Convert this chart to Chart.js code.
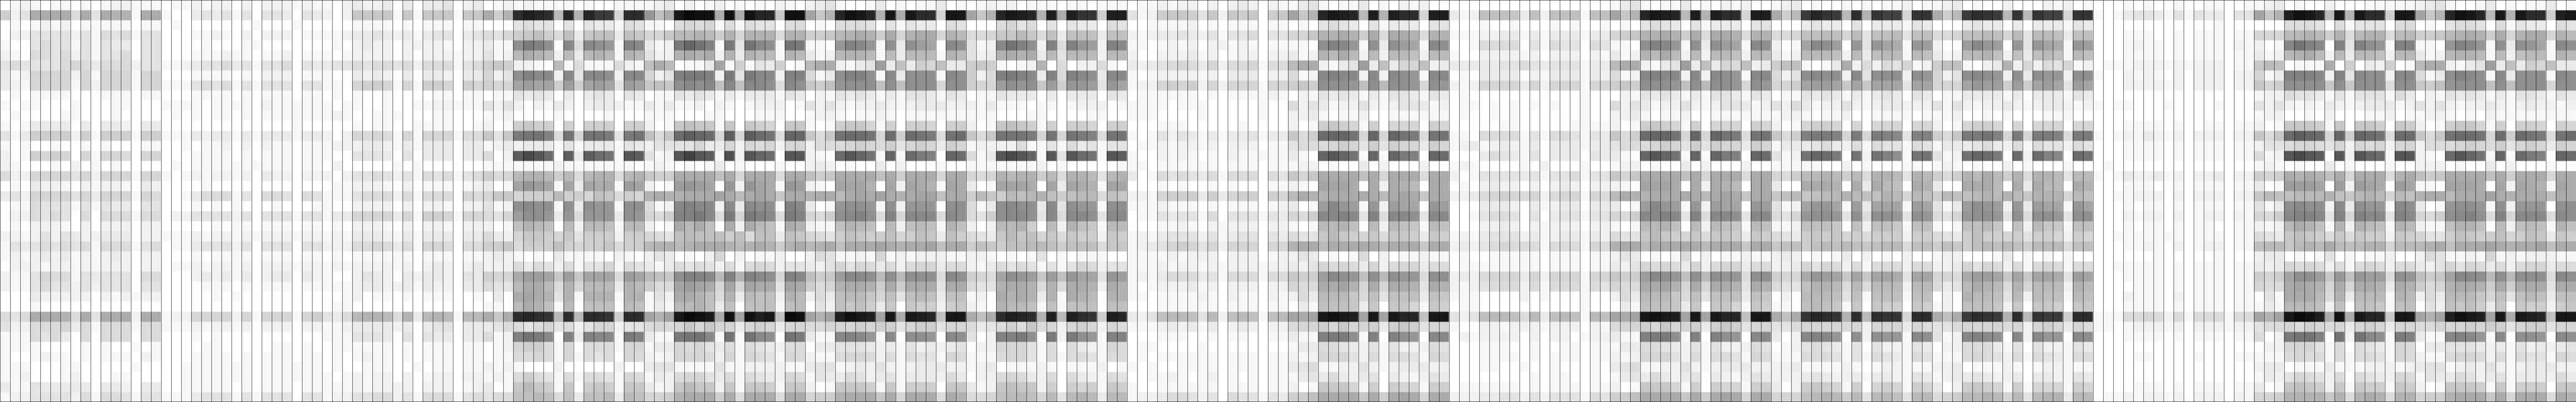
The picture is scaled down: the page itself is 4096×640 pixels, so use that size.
<!DOCTYPE html>
<html>
<head>
<meta charset="utf-8">
<title>Heatmap</title>
<script src="https://cdn.jsdelivr.net/npm/chart.js@4"></script>
<style>
html, body { margin: 0; padding: 0; background: #fff; }
canvas { display: block; }
</style>
</head>
<body>
<canvas id="heat" width="4096" height="640"></canvas>
<script>
// Valeurs : un caractere par cellule, base 36 (0 = blanc, z = presque noir)
// 8 blocs de 32 colonnes, 40 lignes chacun
const tile0 = [
'01210110101221110112122020222121','724cccc5c4cbb1cc1003434140443043','01012120111110110100000001000100','02244442415451440001121020222011',
'10045441414330440000100011000000','21055452414450440001112110112011','45444456535552441123445341445043','31266662616661660001111010222011',
'32166661626661661114545141444044','01011110001110110001111010111011','10110001000110001111011110211111','01000011000100000101011010111111',
'10133330303320330000000000000100','41377772717771771113233131333133','10100100101000110010112020211011','20176760616650660001111010111011',
'21000102010100000101111111111011','52266664626661661012122120322022','01032210212210320000100000000000','34266664636661650013555140554054',
'01154441414330440001010100010001','02254540505551550224444240444144','01022210202220220000010110111011','22124243223330221112122121222122',
'14345454515551450113444240444044','12123231212320220001011110111011','02221221212220220112122120222122','21146551434440550002323130233032',
'21145442424440440000111010111011','00032222202121220000010100000000','00010000000000000000000000000000','545cccb5c4ccc2cc1226666261666167',
'42255563515551551112122120222022','11154530505550550001010000000000','11110000101001010000110000011010','10012110101110210001111010111011',
'11100011000001000011111110111111','11200012000110000011111110111111','31143333303320330011111010111011','12244442515541441113444141444044'
];
const tile1 = [
'10232230303340230121211110100111','2028888181888188c7buwvuavbvss6uu','00011110101110110004544040433154','11233432313440345467897593899398',
'0102322022221022311gjig0h5hgf1ih','1012222020222122412acba2a3aba1ba','34454554525551457872210a15111521','1003232030332033624gihh2h4hhg2hh',
'1106776161776076766dedd7e7ded4ed','01010010000110110114343030343043','10110010011221114242021320233211','12100111000110001120000100001000',
'00010110011110012017877070777077','2026565161666155848jkki5k6kkj4jk','12223321313330331232333141333143','1004443040333033502nqol0n3nlk1on',
'02000001010000001111111211111110','2024454241545145756abba7a5abb5ab','0112221020111012301dfed1d3dcc1ed','11145552515550656886777a77698576',
'1002222020221022412ghgg1g3gff1gg','1336666361776166546eggf3f5fff3gf','01022210202210222019ba90a2aa91aa','12133321313330335326887684777277',
'22255653516650557785777976778577','01011111101110112321010311110210','12122221202320232225354251446154','1002432032332043766ceed8e8ddd5ed',
'1112332231322033544acca5b6aaa3ba','0012011010111001030cdcb4b1bbb1bb','0110000000000000110acb91a09990a9','435abba5b3aba1aac8cuvutauauut7uu',
'11233332303440333455456452466244','1114443040433033512ikjh0i3ihh1ji','01111110101110110126775160555166','01012110101110110115565161545065',
'01001110010110112121000200000200','10121220201220221215754151554165','11121222202220123018a87180787188','122445524155514545599a959399a3a9'
];
const tile2 = [
'12302012010102102341001301011301','f9cxzyycycyvv8yyd8bvyxvbxcxuu6xx','11056561515440550105554041433054','668aaba7b6bbb5bb778abcb7c6bcc6ba',
'312jmki1j4khg1kj110fihf1g3ged0hg','422bcbc2b3baa1ba312abba1a3aaa1ba','9ca0113d17143701acc2134e39376933','624ijji2j4jhh2ii513giig1h3ggg1hg',
'898ghgh9h9hhg5hg879fggg9g9ggg6gg','01143431313331430214343131443143','31311202101222014242122321233322','11100011000111001221011210111111',
'20189881808760881017886170776077','958lnml6n6nlk5mm858kllk6l7lkj5kl','24444633626562662555676574676376','412oron1p2oml0oo210lomk1m1lji0ml',
'12101013010001002320100302000100','877cccc9c6ccc5cc978cccc9c7ccc6cc','201efed0f2fdc1fe210dddb0d2dcb1dc','bcbbcccdcacdc8ccbccacdcdcbcdd9cc',
'512hihh2h3hgg1ih301fggf1g2fff0gg','657iijh5j6jih5ji657ghig5i6hhh5hg','201cac90c2ca91cb2119ba90a29a91b9','6549a999795993986547987796798397',
'abbabcccbabcb7bcabc9cccdcbccd9cc','24301026020112002541121612122211','31354542515652443246465352566355','a98giihaibihg6ih978ehhgagaggg5hg',
'755dedc6d6dcc4dc756bccb7c7ccc4cc','142ccb95b3a992ba2539aa86949a9399','131aab939099919a0429897380877278','dbdxzyxcydywx9zydbdwyxwdxcxwv9xx',
'56568686636763665566676774677466','311jkkh1k1khg0kj311hihf1h0ggf0hg','13365643515432550334443231423234','21266652616541652115665251544165',
'34411114112222113441232421233322','13256643515432651433542341333253','3128a882818871882018887181777088','667bccc7c5ccc5cc677bccc8c6ccc5cb'
];
const tile3 = [
'01212011101101110112122020232021','d8bvxwvbwcwtt7ww4127887482878078','00056450404330540011112010111011','55688a85939993992123343241445044',
'412hkig2i5ife2ih1101212022121011','423bcbc3a4aaa2aa2002223120122022','7871012b050225103234565362556155','725ijih3i5ihg3hh1012222120333022',
'766egfg8e7ffe4fd1226767262666166','01143330303330430111111010111121','21311101101222011111011100000100','11100011000011001110000100000100',
'20189871707760770001110000010000','858kkkj6k6kji5kk1014243131334133','12222511415341440112122120222011','513oqom1o4olk1on1002121010211111',
'11111112010000011101111110111011','656babb7a5bba4ab3015454351555054','301dddc0d3dcb1dd0001010010100011','7a87a9ab979aa5982216777373677076',
'513ghgg3h4gff1gg1112111010111012','547ghhg4h5hhg4hh0114344150444143','202aab70a2b981aa0001121021222022','5438a896858772871213444241344043',
'798799aa979995881234676462666066','22101014010111001111212220222012','21354541414652441112122121222122','765dgfe8e9fdd4fe1213555341555155',
'544bccb5b5ccb2cb1012223120222022','120cbcb3b1cba0bb1101111210211021','210baa91919990990001111110111011','c9cuwvubwawut7wv3249aa94a29a919a',
'53457585626762651112323130232022','402iijg0j2jgf1ii0001110010110011','02266641505321650110000100000000','11156641515541550101111110111011',
'12301112101112011010011110111011','02256532505321540011210120101011','31289882707671871001111110111011','5569aa96a4aba3aa1223554240544143'
];
const tile4 = [
'13410113010212000000000000000000','d8bvxwvawbwuu6ww3129998392999199','01045430413330440001001000101001','668bbcb7c5ccb5bb1112233131333133',
'110gihf1g3ged1hg0015555041544054','312baca2a2aa92aa1002222120222021','acc2134e393669233333344543444133','512hihh2h2hgf1hh0103333021333132',
'787gggf9gaggf6gf2126666362666166','02143431314431430100000000000100','52431224212443120110101010100100','22310112001111110100101000000100',
'20178761706660760000011000001111','857lmmk6m6mkj5kk1105555141554143','45556764747663761231232130333133','310momk1m1mji0ml0003543140333043',
'12201003020002001210000102000100','868cccc9c6ccc5cc2014444341445144','210dddc0c2cba0cc0102322020232022','acbbcccccacdc8cc2235676562566165',
'301ehfe1f2edd0fe0003332031233033','657hhih4i5hhg4hh0014554040344144','101aab90a2a981a90002232021222022','5448a876858873871213444231233132',
'bccacccccaccc8cc2324565551555165','24301015020112110100111110111011','32465653625663550111111110111011','877ehgf9gagff5gg2325666362666166',
'655ccdb6c6ccb4cb2124555251555154','253aaa85949993981110000201000100','03199983808861870110000000000100','dcdxyxwdxdxvv9xx4249aa95a39a91a9',
'56676866737874661002212221222021','311ijjg1i0igf0hh0212222020220122','13355432414222540001110010011011','21266642515541650001111010111011',
'34511224212333220001100100100010','13435323403212430000000010110010','20188861707661770111111010111011','779cccc8c7cdc6cc2223344242444154'
];
const tile5 = [
'13410113010212001230100101011201','d8bvxwvawbwuu6wwc7asvtsaubtrr6tt','01045430413330440003433040333143','678bbcb7c5ccb5bb55699a96a499a499',
'110gihf1g3ged1hg201dhge0f4fdc1fe','312baca2a2aa92aa312aaa92a39aa1a9','acc2134e393659237991013c25254612','512hihh2h2hgf1hh524ghgg2h4ggg2gf',
'787gggf9gaggf6gf667deed8d8ddd4dd','02143431314431430114343131343043','52431224212443124253122421233222','22310112001111111221011200111101',
'20178761706660762016776060666066','857lmmk6m6mkj5kk857ijji6j6jih4ii','45556764747663761333453251544154','310momk1m1mji0ml412kmlj0k2kig1kk',
'12201003020002001111100201000110','868cccc9c6ccc5cc657aaba7a5bba4ba','210dddc0c2cba0cc300cccb0c3ca90cb','acbbcccccacdc8cc89a89aaba99ba6a9',
'301ehfe1f2edd0fe412dffd1e3ddd1ed','657hhih4i5hhg4hh546fggf4g5ggf4gf','101aab90a2a981a91129998092998199','5448a876858873875437878675777277',
'bccacccccaccc8cc89979a9a989aa599','24301015020112112320101302010200','32465653625663552236465251555255','877ehgf9gagff5gg766cfed8d8ddc4dd',
'655ccdb6c6ccb4cb5449bba5a5aaa2aa','253aaa8594999398020aaa9491999199','03199983808861871109a98180877087','dcdxyxwdxdxvv9xxc9ctvutbuautt6uu',
'56676866737874664456666562666365','311ijjg1i0igf0hh302hihf0g2gff1hg','13355432414222540124543140422143','21266642515541651115554141543154',
'34511224212333222231111210122111','13435323403212432223432231332143','20188861707661773027876170676176','779cccc8c7cdc6cc6669aba7a4aa94aa'
];
const tile6 = [
'12301002000212010001010010011001','c7asutsatatrr6tt1013443141433044','00034330303331430000000000001000','55699a96a4aa93990001110010111011',
'200ehfe0f4fdc1fe0001211010111021','312aab92939a91a90001111010111011','7991023b262546120111222121222011','624ghgf2g3gff2gg1002121020222022',
'666dfee7e7ded4ed0002222120222022','01133331303331430000000000000000','41421223212332121011000100001000','11200101000111000000000000000000',
'20167760606660660001111010011011','758jjki6j6jji5jj1012132120222022','13334532515442540001111010111011','412kmlj0l2lih0lk0001111010111011',
'12101002010001000100000000000000','757baca7b5bba4aa1013223120223022','300ccca0c3caa0cb0001110010111011','7a99ababa8bbb6a90011222020222022',
'413egfe2f3edd1fd0001011010111011','546fggf4g5ggf4gg0002122020122021','10199a8092a881990001011010110011','54379776747762760011111110111011',
'79879a9a97aaa5990001121020122011','12200013010101000000001000001000','22364652515651550011111010111011','665ceed8d8ddc4ed0001111010111011',
'534acba5b6aaa2ba0000111010111011','020baa94a2a991a90002111020111011','12099982808870880001111010111011','c9csutsbuatss7uu1115565251555155',
'44566665626763651101222120222122','412hihg0h2hff0hg0001111010111011','02255531404221430000000000000000','11156542515431550000110000100011',
'22301112101221110000000000000000','12334322303321430000000000000000','30278761716661760000111010111011','567aaba6a4abb3aa0112122120222021'
];
const tile7 = [
'12301002000111112341001301011301','d8bwyxvaxbxuu7xxd8bvyxvaxbxuu7wx','00055540514440550104554051433054','666aaba7b5abb5aa778abcb7c6bcc6ba',
'201hkih0i4igf1ii110fihf1g3gfd1hg','312abca2a3aa92aa312abba1a29aa1ba','8a90111c07032701acc2134e39376933','613iiih2i4hgg2hh513gihg1h3ggg1hg',
'867gggg8g8ggg5gg879fggg9g9ggg6gg','12254431414441530214343131443143','42421213212333124242122321232212','12200102000112011221010211111111',
'20188871808870872017886170776076','858lnml6m7mlk5ll858kllk6l7lkj5kl','24456654626562662555676574676376','512oqon0o2oml1oo210lomk1m1lji0ml',
'12101003010001002220100302000100','767cbcb9c6ccc5bc978cccc9c7ccc6cc','301eeed0e2edc0ed110dddc0d2dcb1dc','8a99aaab98aba6a9bccacccdcbccc9cc',
'413ghgg2h3gff1hg301fggf1g2fff0gg','657hiih4i6ihh4ih657ghig5i6hhh5hg','212acb91b2ba91ba2119bb90a29a91b9','54389875858772876447987796798387',
'9aa8abaca9abb6aaabc9cccdcbccd9cc','23301014010112002541121612122211','32365652515652553246465352566355','767dgge8f9fee5gf978dhhgagaggg5hg',
'655cdcb6c6ccb3cb756bccb7c7ccc4cc','041ccca5b3aaa1ba253aaa86949a9399','131aaa92909981990429897380877278','dbdxzywcycxvv8xxdbdwyxwdxcxwv9xx',
'45565765636763665566676774677466','502jkki0k2khg1ji311hihf1h0ggf0hg','02266641505431650334443231423234','11156551515541652115665251544165',
'23301113111222123441232421233322','13246542505432651433542341333253','30189872818771872018887181777088','667bbbb8b5bcb5bb677bccc8c6ccc5cb'
];
const tiles = [tile0, tile1, tile2, tile3, tile4, tile5, tile6, tile7];

const TILE_COLS = 32;
const ROWS = 40;

// Colonnes de l'axe x
const columns = [];
for (let i = 0; i < tiles.length * TILE_COLS; i++) {
    columns.push(String(i));
}

// Gris de la cellule a partir de son niveau
function shade(level) {
    const g = Math.max(0, 255 - level * 7);
    return 'rgb(' + g + ',' + g + ',' + g + ')';
}

// Une serie de barres flottantes par ligne
const datasets = [];
for (let r = 0; r < ROWS; r++) {
    const data = [];
    const colors = [];
    tiles.forEach(function(tile, t) {
        if (tile[r].length !== TILE_COLS) {
            throw new Error('tile' + t + ' row ' + r + ' has ' + tile[r].length + ' cells');
        }
        for (const ch of tile[r]) {
            data.push([r, r + 1]);
            colors.push(shade(parseInt(ch, 36)));
        }
    });
    datasets.push({
        data: data,
        backgroundColor: colors,
        borderWidth: 0,
        borderSkipped: false,
        grouped: false,
        barPercentage: 1,
        categoryPercentage: 1
    });
}

new Chart(document.getElementById('heat'), {
    type: 'bar',
    data: { labels: columns, datasets: datasets },
    options: {
        responsive: false,
        animation: false,
        events: [],
        layout: { padding: 0 },
        plugins: { legend: { display: false }, tooltip: { enabled: false } },
        scales: {
            x: {
                ticks: { display: false, autoSkip: false },
                border: { display: false },
                grid: { color: '#000', lineWidth: 0.533, drawTicks: false, offset: true, z: 1 }
            },
            y: {
                min: 0,
                max: ROWS,
                reverse: true,
                // seulement le trait du haut et celui du bas
                afterBuildTicks: function(scale) {
                    scale.ticks = [{ value: 0 }, { value: ROWS - 0.03 }];
                },
                ticks: { display: false },
                border: { display: false },
                grid: { color: '#000', lineWidth: 0.533, drawTicks: false, z: 1 }
            }
        }
    }
});
</script>
</body>
</html>
